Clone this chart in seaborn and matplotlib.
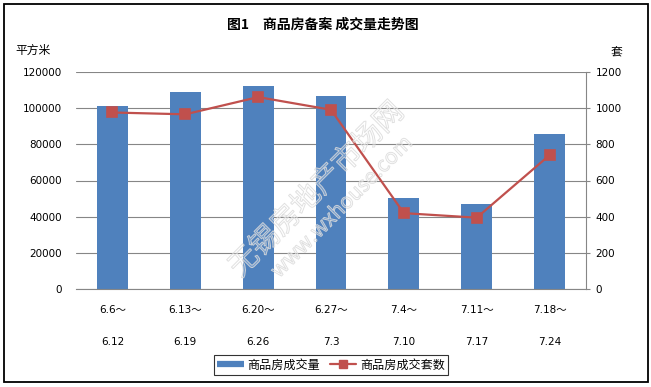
import matplotlib
matplotlib.use("Agg")
import matplotlib.pyplot as plt
import matplotlib.patheffects as pe
from matplotlib.lines import Line2D
from matplotlib.patches import Rectangle
import seaborn as sns
import pandas as pd

# ---- data ----
week_start = ["6.6～", "6.13～", "6.20～", "6.27～", "7.4～", "7.11～", "7.18～"]
week_end = ["6.12", "6.19", "6.26", "7.3", "7.10", "7.17", "7.24"]
area = [101000, 108800, 112100, 106600, 50300, 47000, 85600]   # 商品房成交量 (平方米)
units = [975, 965, 1060, 990, 420, 395, 740]                   # 商品房成交套数 (套)
left_ticks = [0, 20000, 40000, 60000, 80000, 100000, 120000]
right_ticks = [0, 200, 400, 600, 800, 1000, 1200]

title = "图1　商品房备案 成交量走势图"
left_unit = "平方米"
right_unit = "套"
bar_name = "商品房成交量"
line_name = "商品房成交套数"

BLUE = "#4F81BD"
RED = "#C0504D"
GRID = "#868686"
CJK = ["Noto Sans CJK SC", "DejaVu Sans"]

sns.set_style("white")
plt.rcParams["font.family"] = ["DejaVu Sans", "Noto Sans CJK SC"]
plt.rcParams["text.color"] = "black"

labels = [f"{a}\n{b}" for a, b in zip(week_start, week_end)]
df = pd.DataFrame({"week": labels, "area": area, "units": units})

W, H = 651, 387
fig = plt.figure(figsize=(W / 100, H / 100), dpi=100)
ax = fig.add_axes([76 / W, 1 - 289.3 / H, 510 / W, 217.6 / H])

sns.barplot(data=df, x="week", y="area", color=BLUE, saturation=1,
            width=0.425, ax=ax, zorder=2, linewidth=0, edgecolor="none")
ax.set_ylim(0, 120000)
ax.set_yticks(left_ticks)
ax.set_yticklabels([str(v) for v in left_ticks])
ax.yaxis.grid(True, color=GRID, linewidth=0.8)
ax.set_axisbelow(True)
for s in ["left", "top", "right"]:
    ax.spines[s].set_visible(False)
ax.spines["bottom"].set_color(GRID)
ax.spines["bottom"].set_linewidth(0.8)
ax.tick_params(axis="y", length=0, pad=10, labelsize=7.5, labelcolor="black")
ax.tick_params(axis="x", length=0, pad=11, labelsize=7.5, labelcolor="black")
ax.set_xlabel("")
ax.set_ylabel("")

ax2 = ax.twinx()
sns.pointplot(data=df, x="week", y="units", color=RED, markers="s",
              markersize=6.5, linewidth=1.6, ax=ax2, errorbar=None)
ax2.set_ylim(0, 1200)
ax2.set_yticks(right_ticks)
ax2.set_yticklabels([str(v) for v in right_ticks])
for s in ["left", "top", "bottom"]:
    ax2.spines[s].set_visible(False)
ax2.spines["right"].set_color(GRID)
ax2.spines["right"].set_linewidth(0.8)
ax2.tick_params(axis="y", length=3, width=0.8, color=GRID, pad=4,
                labelsize=7.5, labelcolor="black")
ax2.set_ylabel("")
ax2.set_xlabel("")
ax.set_xlim(-0.5, 6.5)

for t in ax.get_xticklabels():
    t.set_linespacing(3.8)
    t.set_verticalalignment("top")

# titles / units
fig.text(323 / W, 1 - 25 / H, title, ha="center", va="center",
         fontsize=10, fontweight="bold", family=CJK, color="black")
fig.text(15 / W, 1 - 50 / H, left_unit, ha="left", va="center",
         fontsize=8.5, family=CJK, color="black")
fig.text(616 / W, 1 - 53 / H, right_unit, ha="center", va="center",
         fontsize=8.5, family=CJK, color="black")

# legend
handles = [Line2D([0], [0], color=BLUE, lw=4.5, solid_capstyle="butt"),
           Line2D([0], [0], color=RED, lw=1.6, marker="s", markersize=6)]
leg = fig.legend(handles, [bar_name, line_name], loc="center",
                 bbox_to_anchor=(331 / W, 1 - 365 / H), ncol=2,
                 frameon=True, fancybox=False, edgecolor="black",
                 prop={"family": CJK, "size": 8.7}, handlelength=2.2,
                 handletextpad=0.3, columnspacing=0.8, borderpad=0.25,
                 borderaxespad=0)
leg.get_frame().set_linewidth(0.8)

# watermark (outlined, mostly transparent)
wm_fx = [pe.withStroke(linewidth=0.7, foreground=(0.85, 0.85, 0.85, 0.85))]
fig.text(317 / W, 1 - 190 / H, "无锡房地产市场网", rotation=45, ha="center",
         va="center", fontsize=21, color=(1, 1, 1, 0.12), family=CJK,
         fontweight="light", path_effects=wm_fx, zorder=10)
fig.text(342 / W, 1 - 207 / H, "www.wxhouse.com", rotation=45, ha="center",
         va="center", fontsize=15, color=(1, 1, 1, 0.12), family=CJK,
         fontweight="light", path_effects=wm_fx, zorder=10)

# outer border
fig.patches.append(Rectangle((3.5 / W, 5.5 / H), 644 / W, 378 / H,
                             transform=fig.transFigure, fill=False,
                             edgecolor="black", linewidth=1.3))

fig.savefig("out.png", dpi=100)
